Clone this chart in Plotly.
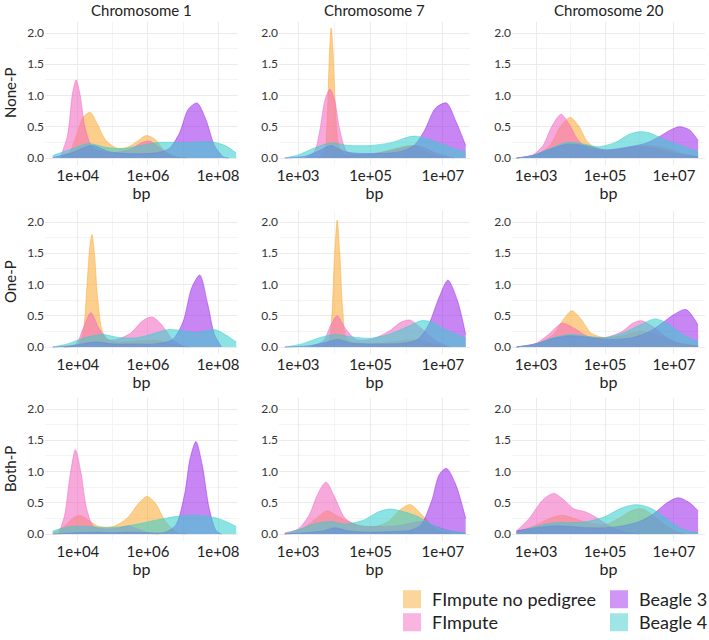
import plotly.graph_objects as go
from plotly.subplots import make_subplots

# facet labels
chromosomes = ["Chromosome 1", "Chromosome 7", "Chromosome 20"]
pedigrees = ["None-P", "One-P", "Both-P"]
methods = ["FImpute no pedigree", "FImpute", "Beagle 3", "Beagle 4"]

# x tick labels per column (log10 of bp)
col_ticks = [[4, 6, 8], [3, 5, 7], [3, 5, 7]]
col_minor = [[3, 5, 7], [4, 6], [4, 6]]
col_range = [[3.06, 8.57], [2.47, 7.75], [2.30, 7.90]]

# densities: x = log10(bp), y = density
c1_none = {
    "FImpute no pedigree": ([3.5, 3.75, 3.95, 4.15, 4.35, 4.55, 4.8, 5.1, 5.4, 5.7, 5.95, 6.2, 6.5, 6.8, 7.1],
                            [0.0, 0.08, 0.35, 0.65, 0.73, 0.55, 0.28, 0.16, 0.17, 0.27, 0.36, 0.3, 0.1, 0.02, 0.0]),
    "FImpute": ([3.5, 3.7, 3.85, 3.95, 4.05, 4.2, 4.4, 4.7, 5.1, 5.5, 5.8, 6.05, 6.3, 6.6, 6.9],
                [0.02, 0.35, 1.05, 1.25, 1.05, 0.5, 0.18, 0.1, 0.09, 0.14, 0.24, 0.27, 0.18, 0.05, 0.0]),
    "Beagle 3": ([3.28, 3.8, 4.4, 4.9, 5.5, 6.2, 6.6, 6.9, 7.15, 7.4, 7.65, 7.9, 8.15, 8.3],
                 [0.01, 0.08, 0.2, 0.1, 0.07, 0.08, 0.15, 0.4, 0.78, 0.88, 0.62, 0.2, 0.02, 0.0]),
    "Beagle 4": ([3.28, 3.7, 4.3, 4.8, 5.3, 5.8, 6.3, 6.8, 7.3, 7.8, 8.2, 8.52],
                 [0.04, 0.12, 0.23, 0.17, 0.15, 0.2, 0.25, 0.25, 0.25, 0.26, 0.2, 0.08]),
}
c7_none = {
    "FImpute no pedigree": ([3.55, 3.72, 3.8, 3.86, 3.91, 3.96, 4.03, 4.12, 4.25, 4.6, 5.2, 5.8, 6.2, 6.6, 7.0],
                            [0.0, 0.08, 0.6, 1.6, 2.08, 1.75, 0.8, 0.2, 0.06, 0.05, 0.08, 0.17, 0.2, 0.08, 0.0]),
    "FImpute": ([3.2, 3.45, 3.6, 3.75, 3.88, 4.0, 4.15, 4.35, 4.7, 5.2, 5.8, 6.3, 6.8, 7.3],
                [0.0, 0.1, 0.45, 0.95, 1.1, 0.95, 0.45, 0.1, 0.06, 0.08, 0.15, 0.2, 0.08, 0.0]),
    "Beagle 3": ([2.63, 3.2, 3.6, 3.9, 4.3, 5.0, 5.8, 6.2, 6.5, 6.8, 7.1, 7.35, 7.63],
                 [0.0, 0.03, 0.12, 0.2, 0.1, 0.07, 0.1, 0.2, 0.45, 0.8, 0.88, 0.6, 0.2]),
    "Beagle 4": ([2.63, 3.0, 3.4, 3.9, 4.4, 5.0, 5.6, 6.0, 6.25, 6.6, 7.0, 7.3, 7.63],
                 [0.0, 0.05, 0.15, 0.24, 0.2, 0.2, 0.25, 0.33, 0.35, 0.3, 0.22, 0.15, 0.1]),
}
c20_none = {
    "FImpute no pedigree": ([2.43, 3.0, 3.4, 3.7, 3.99, 4.25, 4.5, 4.8, 5.3, 5.8, 6.3, 6.8, 7.3, 7.7],
                            [0.0, 0.05, 0.2, 0.5, 0.65, 0.5, 0.25, 0.15, 0.13, 0.18, 0.2, 0.15, 0.06, 0.02]),
    "FImpute": ([2.43, 2.9, 3.2, 3.45, 3.72, 3.95, 4.2, 4.5, 5.0, 5.5, 6.0, 6.5, 7.0, 7.7],
                [0.0, 0.05, 0.2, 0.5, 0.7, 0.55, 0.3, 0.15, 0.12, 0.15, 0.18, 0.15, 0.08, 0.02]),
    "Beagle 3": ([2.43, 2.9, 3.4, 3.9, 4.4, 5.0, 5.6, 6.2, 6.6, 6.9, 7.16, 7.45, 7.7],
                 [0.0, 0.04, 0.14, 0.22, 0.2, 0.13, 0.17, 0.24, 0.35, 0.45, 0.5, 0.45, 0.28]),
    "Beagle 4": ([2.43, 2.9, 3.4, 3.9, 4.4, 4.8, 5.3, 5.7, 6.0, 6.3, 6.7, 7.2, 7.7],
                 [0.0, 0.04, 0.15, 0.25, 0.22, 0.18, 0.25, 0.38, 0.42, 0.4, 0.3, 0.2, 0.1]),
}
c1_one = {
    "FImpute no pedigree": ([3.6, 4.0, 4.15, 4.25, 4.33, 4.4, 4.47, 4.56, 4.7, 4.9, 5.3, 5.8, 6.3, 6.8, 7.2],
                            [0.0, 0.03, 0.25, 0.9, 1.55, 1.8, 1.5, 0.8, 0.25, 0.1, 0.08, 0.1, 0.1, 0.03, 0.0]),
    "FImpute": ([3.6, 3.95, 4.15, 4.37, 4.6, 4.85, 5.1, 5.5, 5.85, 6.12, 6.4, 6.7, 7.03],
                [0.0, 0.05, 0.3, 0.55, 0.3, 0.12, 0.12, 0.22, 0.42, 0.48, 0.35, 0.12, 0.0]),
    "Beagle 3": ([3.28, 3.8, 4.5, 5.0, 5.6, 6.2, 6.7, 7.0, 7.25, 7.48, 7.7, 7.9, 8.1],
                 [0.0, 0.02, 0.08, 0.05, 0.05, 0.05, 0.12, 0.4, 0.95, 1.15, 0.7, 0.2, 0.0]),
    "Beagle 4": ([3.28, 3.7, 4.2, 4.7, 5.2, 5.7, 6.2, 6.6, 7.0, 7.4, 7.9, 8.2, 8.52],
                 [0.0, 0.05, 0.15, 0.2, 0.15, 0.15, 0.22, 0.28, 0.26, 0.23, 0.28, 0.2, 0.08]),
}
c7_one = {
    "FImpute no pedigree": ([3.5, 3.82, 3.93, 4.0, 4.08, 4.15, 4.23, 4.35, 4.7, 5.3, 5.9, 6.3, 6.7, 7.1],
                            [0.0, 0.06, 0.5, 1.4, 2.03, 1.5, 0.6, 0.12, 0.06, 0.06, 0.1, 0.12, 0.05, 0.0]),
    "FImpute": ([3.3, 3.7, 3.9, 4.08, 4.3, 4.6, 5.0, 5.5, 5.85, 6.1, 6.4, 6.8, 7.2],
                [0.0, 0.1, 0.35, 0.5, 0.3, 0.12, 0.12, 0.25, 0.4, 0.43, 0.3, 0.1, 0.0]),
    "Beagle 3": ([2.63, 3.3, 3.8, 4.1, 4.5, 5.2, 5.9, 6.3, 6.6, 6.9, 7.14, 7.4, 7.63],
                 [0.0, 0.02, 0.08, 0.12, 0.06, 0.05, 0.06, 0.12, 0.35, 0.8, 1.07, 0.75, 0.2]),
    "Beagle 4": ([2.63, 3.1, 3.6, 4.0, 4.5, 5.0, 5.5, 6.0, 6.4, 6.7, 7.0, 7.3, 7.63],
                 [0.0, 0.05, 0.15, 0.2, 0.16, 0.14, 0.2, 0.32, 0.42, 0.4, 0.3, 0.22, 0.15]),
}
c20_one = {
    "FImpute no pedigree": ([2.43, 3.0, 3.5, 3.8, 4.04, 4.3, 4.6, 5.0, 5.5, 6.0, 6.5, 7.0, 7.7],
                            [0.0, 0.05, 0.2, 0.45, 0.58, 0.45, 0.22, 0.15, 0.18, 0.25, 0.2, 0.08, 0.02]),
    "FImpute": ([2.43, 3.0, 3.4, 3.75, 4.1, 4.5, 5.0, 5.5, 5.8, 6.05, 6.4, 6.8, 7.2, 7.7],
                [0.0, 0.06, 0.22, 0.38, 0.3, 0.17, 0.15, 0.25, 0.38, 0.42, 0.32, 0.15, 0.05, 0.01]),
    "Beagle 3": ([2.43, 3.0, 3.5, 4.0, 4.6, 5.2, 5.8, 6.3, 6.7, 7.0, 7.35, 7.7],
                 [0.0, 0.05, 0.14, 0.18, 0.15, 0.12, 0.15, 0.25, 0.4, 0.52, 0.6, 0.35]),
    "Beagle 4": ([2.43, 3.0, 3.5, 4.0, 4.5, 5.0, 5.5, 6.0, 6.45, 6.8, 7.2, 7.7],
                 [0.0, 0.05, 0.15, 0.2, 0.17, 0.15, 0.22, 0.35, 0.45, 0.38, 0.22, 0.08]),
}
c1_both = {
    "FImpute no pedigree": ([3.28, 3.6, 3.85, 4.05, 4.3, 4.6, 5.0, 5.4, 5.75, 5.97, 6.2, 6.5, 6.84, 7.1],
                            [0.02, 0.12, 0.25, 0.3, 0.22, 0.12, 0.12, 0.25, 0.5, 0.6, 0.5, 0.2, 0.02, 0.0]),
    "FImpute": ([3.45, 3.62, 3.78, 3.93, 4.08, 4.25, 4.45, 4.8, 5.2, 5.45, 5.7, 6.0, 6.3],
                [0.0, 0.3, 0.95, 1.35, 1.0, 0.4, 0.12, 0.08, 0.1, 0.13, 0.08, 0.02, 0.0]),
    "Beagle 3": ([3.28, 4.0, 4.5, 5.0, 5.5, 6.0, 6.5, 6.8, 7.05, 7.2, 7.37, 7.55, 7.75, 7.95, 8.1],
                 [0.0, 0.02, 0.03, 0.02, 0.03, 0.02, 0.03, 0.15, 0.65, 1.2, 1.48, 1.1, 0.4, 0.05, 0.0]),
    "Beagle 4": ([3.28, 3.8, 4.3, 4.8, 5.3, 5.8, 6.3, 6.8, 7.2, 7.6, 8.0, 8.3, 8.52],
                 [0.05, 0.12, 0.12, 0.1, 0.12, 0.17, 0.23, 0.28, 0.3, 0.29, 0.25, 0.18, 0.12]),
}
c7_both = {
    "FImpute no pedigree": ([2.63, 3.1, 3.5, 3.79, 4.1, 4.6, 5.1, 5.5, 5.8, 6.1, 6.4, 6.8, 7.2],
                            [0.0, 0.08, 0.25, 0.37, 0.28, 0.15, 0.12, 0.2, 0.38, 0.47, 0.32, 0.08, 0.0]),
    "FImpute": ([2.63, 3.0, 3.3, 3.55, 3.77, 4.0, 4.3, 4.7, 5.2, 5.7, 6.1, 6.4, 6.8, 7.2, 7.63],
                [0.02, 0.08, 0.3, 0.65, 0.83, 0.6, 0.25, 0.13, 0.12, 0.13, 0.17, 0.2, 0.12, 0.05, 0.01]),
    "Beagle 3": ([2.63, 3.2, 3.7, 4.0, 4.4, 5.0, 5.6, 6.1, 6.4, 6.7, 6.9, 7.1, 7.35, 7.63],
                 [0.0, 0.02, 0.05, 0.1, 0.05, 0.03, 0.04, 0.06, 0.15, 0.55, 0.95, 1.05, 0.8, 0.25]),
    "Beagle 4": ([2.63, 3.0, 3.5, 3.9, 4.3, 4.8, 5.2, 5.55, 5.9, 6.3, 6.7, 7.1, 7.63],
                 [0.0, 0.07, 0.17, 0.2, 0.16, 0.22, 0.35, 0.4, 0.36, 0.28, 0.15, 0.06, 0.02]),
}
c20_both = {
    "FImpute no pedigree": ([2.43, 2.9, 3.4, 3.75, 4.1, 4.5, 5.0, 5.4, 5.8, 6.1, 6.5, 6.9, 7.3],
                            [0.03, 0.12, 0.25, 0.3, 0.25, 0.18, 0.15, 0.25, 0.38, 0.4, 0.25, 0.08, 0.0]),
    "FImpute": ([2.43, 2.8, 3.2, 3.51, 3.8, 4.1, 4.4, 4.7, 5.0, 5.3, 5.6, 6.0],
                [0.05, 0.25, 0.55, 0.65, 0.55, 0.4, 0.36, 0.28, 0.17, 0.08, 0.03, 0.0]),
    "Beagle 3": ([2.43, 3.0, 3.5, 4.0, 4.5, 5.0, 5.5, 6.0, 6.4, 6.8, 7.12, 7.45, 7.7],
                 [0.05, 0.1, 0.13, 0.12, 0.1, 0.1, 0.13, 0.2, 0.32, 0.5, 0.58, 0.5, 0.37]),
    "Beagle 4": ([2.43, 3.0, 3.5, 4.0, 4.5, 5.0, 5.5, 5.9, 6.3, 6.7, 7.1, 7.4, 7.7],
                 [0.03, 0.12, 0.18, 0.18, 0.2, 0.28, 0.42, 0.47, 0.42, 0.28, 0.12, 0.05, 0.02]),
}

panels = [[c1_none, c7_none, c20_none],
          [c1_one, c7_one, c20_one],
          [c1_both, c7_both, c20_both]]

colors = {
    "FImpute no pedigree": (249, 171, 53),
    "FImpute": (243, 103, 193),
    "Beagle 3": (159, 43, 235),
    "Beagle 4": (55, 205, 205),
}
swatch = {
    "FImpute no pedigree": "#FCD59C",
    "FImpute": "#F9B4E0",
    "Beagle 3": "#CF96F5",
    "Beagle 4": "#A0E5E5",
}

W, H = 709, 640
col_px = [(45, 238), (279, 470), (512, 705)]
row_px = [(21.5, 164.5), (210.5, 353.5), (397.5, 540.5)]
FONT = "Lato"

fig = make_subplots(rows=3, cols=3)

for r in range(3):
    for c in range(3):
        pdata = panels[r][c]
        for m in methods:
            xs, ys = pdata[m]
            rgb = colors[m]
            fig.add_trace(go.Scatter(
                x=[10 ** v for v in xs], y=ys,
                mode="lines", line=dict(shape="spline", smoothing=0.8, width=0.7,
                                        color="rgba(%d,%d,%d,0.75)" % rgb),
                fill="tozeroy", fillcolor="rgba(%d,%d,%d,0.57)" % rgb,
                showlegend=False, hoverinfo="skip",
            ), row=r + 1, col=c + 1)

        x0, x1 = col_px[c]
        y0, y1 = row_px[r]
        fig.update_xaxes(
            type="log", range=col_range[c],
            domain=[x0 / W, x1 / W],
            tickvals=[10 ** t for t in col_ticks[c]],
            ticktext=["1e+%02d" % t for t in col_ticks[c]],
            tickfont=dict(size=15, color="#222", family=FONT),
            showgrid=True, gridcolor="#EBEBEB", gridwidth=1,
            minor=dict(tickvals=[10 ** t for t in col_minor[c]], showgrid=True,
                       gridcolor="#F4F4F4", gridwidth=1),
            zeroline=False, showline=False, ticks="", automargin=False,
            title=dict(text="bp", font=dict(size=16, color="#222", family=FONT), standoff=0),
            row=r + 1, col=c + 1)
        fig.update_yaxes(
            range=[-0.104, 2.184],
            domain=[(H - y1) / H, (H - y0) / H],
            tickvals=[0, 0.5, 1, 1.5, 2],
            ticktext=["0.0", "0.5", "1.0", "1.5", "2.0"],
            tickfont=dict(size=12, color="#333", family=FONT),
            showgrid=True, gridcolor="#EBEBEB", gridwidth=1,
            minor=dict(tickvals=[0.25, 0.75, 1.25, 1.75], showgrid=True,
                       gridcolor="#F4F4F4", gridwidth=1),
            zeroline=False, showline=False, ticks="", automargin=False,
            row=r + 1, col=c + 1)

# legend: one small legend per entry, laid out in two columns
legend_ids = {"FImpute no pedigree": "legend", "FImpute": "legend2",
              "Beagle 3": "legend3", "Beagle 4": "legend4"}
legend_pos = {"legend": (392, 581), "legend2": (392, 604),
              "legend3": (599, 581), "legend4": (599, 604)}
for m in methods:
    fig.add_trace(go.Scatter(
        x=[None], y=[None], mode="markers", name=m,
        marker=dict(symbol="square", size=16, color=swatch[m],
                    line=dict(color=swatch[m], width=2)),
        legend=legend_ids[m], showlegend=True,
    ))

annotations = []
for c, name in enumerate(chromosomes):
    x0, x1 = col_px[c]
    annotations.append(dict(text=name, x=(x0 + x1) / 2 / W, y=(H - 10) / H,
                            xref="paper", yref="paper", showarrow=False,
                            xanchor="center", yanchor="middle",
                            font=dict(size=15, color="#222", family=FONT)))
for r, name in enumerate(pedigrees):
    y0, y1 = row_px[r]
    annotations.append(dict(text=name, x=10 / W, y=(H - (y0 + y1) / 2) / H,
                            xref="paper", yref="paper", showarrow=False, textangle=-90,
                            xanchor="center", yanchor="middle",
                            font=dict(size=15, color="#222", family=FONT)))

legends = {}
for lid, (lx, ly) in legend_pos.items():
    legends[lid] = dict(x=lx / W, y=(H - ly) / H, orientation="v",
                        yanchor="top", xanchor="left",
                        font=dict(size=18, color="#222", family=FONT),
                        bgcolor="rgba(0,0,0,0)", itemclick=False)

fig.update_layout(
    width=W, height=H,
    margin=dict(l=0, r=0, t=0, b=0, autoexpand=False),
    paper_bgcolor="white", plot_bgcolor="white",
    font=dict(family=FONT),
    annotations=annotations,
    **legends,
)

fig.write_html("out.html", config={"displayModeBar": False},
               post_script="document.body.style.margin='0';")
